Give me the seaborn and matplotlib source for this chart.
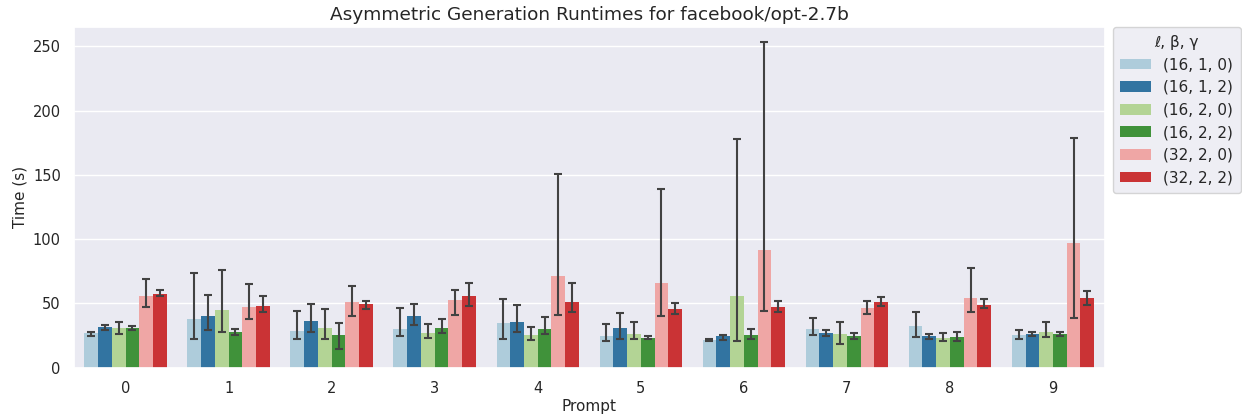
import matplotlib
matplotlib.use("Agg")
import matplotlib.pyplot as plt
import pandas as pd
import numpy as np
import seaborn as sns

prompts = list(range(10))
configs = ["(16, 1, 0)", "(16, 1, 2)", "(16, 2, 0)", "(16, 2, 2)", "(32, 2, 0)", "(32, 2, 2)"]

# mean runtime per prompt, one list per (l, beta, gamma) config
t_16_1_0 = [26.7, 37.6, 28.3, 30.3, 34.8, 24.6, 21.5, 29.9, 32.2, 25.2]
t_16_1_2 = [31.4, 40.0, 36.1, 40.2, 35.5, 30.9, 24.4, 26.7, 24.9, 26.0]
t_16_2_0 = [30.9, 45.1, 30.9, 27.2, 25.4, 26.0, 56.0, 26.2, 22.9, 27.5]
t_16_2_2 = [31.1, 27.5, 25.2, 30.6, 30.1, 23.3, 25.7, 24.4, 23.9, 26.2]
t_32_2_0 = [55.8, 47.2, 51.0, 52.4, 71.5, 65.8, 91.2, 46.7, 54.0, 96.7]
t_32_2_2 = [57.5, 48.0, 49.5, 55.5, 50.9, 45.9, 47.0, 51.0, 49.0, 54.0]

# error bar low / high ends
lo_16_1_0 = [24.9, 22.1, 22.3, 24.4, 22.6, 21.0, 20.8, 25.4, 23.9, 22.3]
hi_16_1_0 = [28.0, 73.6, 44.1, 46.7, 53.7, 33.7, 22.6, 38.9, 43.4, 29.1]
lo_16_1_2 = [29.1, 29.3, 27.5, 33.4, 27.5, 22.6, 21.8, 24.4, 22.6, 24.6]
hi_16_1_2 = [33.4, 56.5, 49.5, 49.3, 49.0, 42.8, 25.4, 29.3, 26.2, 27.5]
lo_16_2_0 = [26.0, 27.5, 22.1, 22.9, 21.3, 22.3, 20.8, 18.7, 20.5, 23.6]
hi_16_2_0 = [35.3, 75.7, 45.4, 34.0, 31.9, 35.5, 177.6, 35.5, 26.7, 35.8]
lo_16_2_2 = [29.3, 25.2, 14.5, 27.2, 26.0, 22.1, 22.1, 22.6, 20.5, 24.9]
hi_16_2_2 = [32.7, 29.9, 34.5, 37.6, 39.4, 24.9, 30.1, 27.0, 28.0, 28.0]
lo_32_2_0 = [47.0, 37.9, 40.4, 41.2, 41.2, 40.4, 43.8, 42.0, 43.1, 38.4]
hi_32_2_0 = [69.2, 64.8, 63.8, 60.2, 150.6, 138.8, 253.0, 52.1, 77.8, 178.4]
lo_32_2_2 = [55.5, 43.1, 45.6, 48.0, 43.1, 42.0, 43.5, 48.0, 46.2, 49.0]
hi_32_2_2 = [60.7, 55.5, 52.1, 65.8, 65.6, 50.5, 52.1, 54.7, 53.2, 60.0]

means = [t_16_1_0, t_16_1_2, t_16_2_0, t_16_2_2, t_32_2_0, t_32_2_2]
lows = [lo_16_1_0, lo_16_1_2, lo_16_2_0, lo_16_2_2, lo_32_2_0, lo_32_2_2]
highs = [hi_16_1_0, hi_16_1_2, hi_16_2_0, hi_16_2_2, hi_32_2_0, hi_32_2_2]

rows = []
for cfg, vals in zip(configs, means):
    for p, v in zip(prompts, vals):
        rows.append({"Prompt": p, "config": cfg, "Time (s)": v})
df = pd.DataFrame(rows)

sns.set_theme(style="darkgrid")
fig = plt.figure(figsize=(12.42, 4.17), dpi=100)
ax = fig.add_axes([0.0596, 0.1182, 0.8297, 0.8171])

sns.barplot(data=df, x="Prompt", y="Time (s)", hue="config", hue_order=configs,
            palette="Paired", errorbar=None, linewidth=0, ax=ax)

# asymmetric error bars on top of each bar
for bars, vals, lo, hi in zip(ax.containers, means, lows, highs):
    xs = [b.get_x() + b.get_width() / 2 for b in bars]
    v = np.array(vals)
    yerr = [v - np.array(lo), np.array(hi) - v]
    ax.errorbar(xs, v, yerr=yerr, fmt="none", ecolor=".26", elinewidth=1.5,
                capsize=3.2, capthick=1.5)

ax.set_xlim(-0.5, 9.5)
ax.set_ylim(0, 265)
ax.set_title("Asymmetric Generation Runtimes for facebook/opt-2.7b", fontsize=13.3, pad=5)
ax.set_xlabel("Prompt", fontsize=11, labelpad=2)
ax.set_ylabel("Time (s)", fontsize=11)
ax.tick_params(labelsize=10.5)
ax.legend(title="ℓ, β, γ", title_fontsize=11, fontsize=11, loc="upper left",
          bbox_to_anchor=(1.008, 1), borderaxespad=0, borderpad=0.5)

plt.savefig("out.png", dpi=100)
